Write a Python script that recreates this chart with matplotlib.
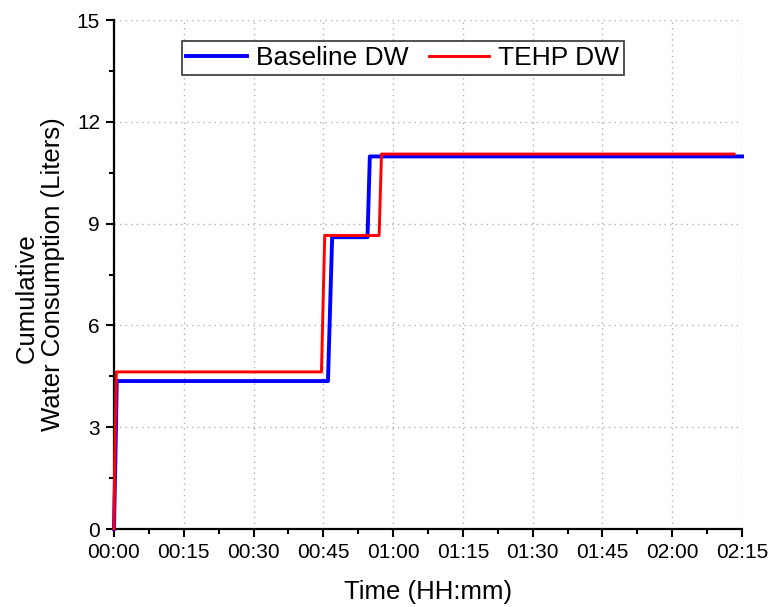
#!/usr/bin/env python3
"""Cumulative water consumption of baseline vs TEHP dishwasher."""

import matplotlib.pyplot as plt
from matplotlib.ticker import MultipleLocator

# time in minutes, cumulative water in liters
BASELINE_T = [0, 0.3, 0.6, 46.0, 46.9, 54.5, 55.0, 135.0]
BASELINE_W = [0, 2.0, 4.36, 4.36, 8.6, 8.6, 10.98, 10.98]

TEHP_T = [0, 0.2, 0.5, 44.6, 45.3, 57.0, 57.5, 133.3]
TEHP_W = [0, 2.3, 4.63, 4.63, 8.65, 8.65, 11.05, 11.05]

X_TICKS = [0, 15, 30, 45, 60, 75, 90, 105, 120, 135]
X_TICK_LABELS = ["00:00", "00:15", "00:30", "00:45", "01:00",
                 "01:15", "01:30", "01:45", "02:00", "02:15"]
Y_TICKS = [0, 3, 6, 9, 12, 15]


def main():
    plt.rcParams["font.family"] = ["Liberation Sans", "DejaVu Sans"]

    fig = plt.figure(figsize=(7.69, 6.07), dpi=100, facecolor="white")
    ax = fig.add_axes([0.1482, 0.1285, 0.8167, 0.8385])

    ax.plot(BASELINE_T, BASELINE_W, color="#0000ff", linewidth=2.8,
            label="Baseline DW", clip_on=False, zorder=3)
    ax.plot(TEHP_T, TEHP_W, color="#ff0000", linewidth=2.1,
            label="TEHP DW", clip_on=False, zorder=4)

    ax.set_xlim(0, 135)
    ax.set_ylim(0, 15)
    ax.set_xticks(X_TICKS)
    ax.set_xticklabels(X_TICK_LABELS)
    ax.set_yticks(Y_TICKS)
    ax.xaxis.set_minor_locator(MultipleLocator(7.5))
    ax.yaxis.set_minor_locator(MultipleLocator(1.5))

    ax.tick_params(which="major", direction="out", length=6, width=1.5,
                   labelsize=15, pad=4)
    ax.tick_params(which="minor", direction="out", length=3.5, width=1.5)

    for side in ("top", "right"):
        ax.spines[side].set_visible(False)
    for side in ("left", "bottom"):
        ax.spines[side].set_linewidth(1.6)

    ax.grid(True, which="major", linestyle=(0, (1, 3)), color="#b0b0b0",
            linewidth=1.0)
    ax.set_axisbelow(True)

    ax.set_xlabel("Time (HH:mm)", fontsize=18.5)
    ax.xaxis.set_label_coords(0.5, -0.1)
    # first line sits a little toward the start of the second, as in the source
    ax.set_ylabel("Cumulative       \nWater Consumption (Liters)", fontsize=18.5,
                  multialignment="center", linespacing=1.05)
    ax.yaxis.set_label_coords(-0.078, 0.5)

    legend = ax.legend(loc="upper center", bbox_to_anchor=(0.46, 0.958),
                       ncol=2, fontsize=19, frameon=True, fancybox=False,
                       edgecolor="black", handlelength=2.3,
                       columnspacing=0.75, handletextpad=0.35,
                       borderpad=0.18, borderaxespad=0)
    legend.get_frame().set_linewidth(1.2)

    fig.savefig("out.png", dpi=100)
    plt.close(fig)


if __name__ == "__main__":
    main()
